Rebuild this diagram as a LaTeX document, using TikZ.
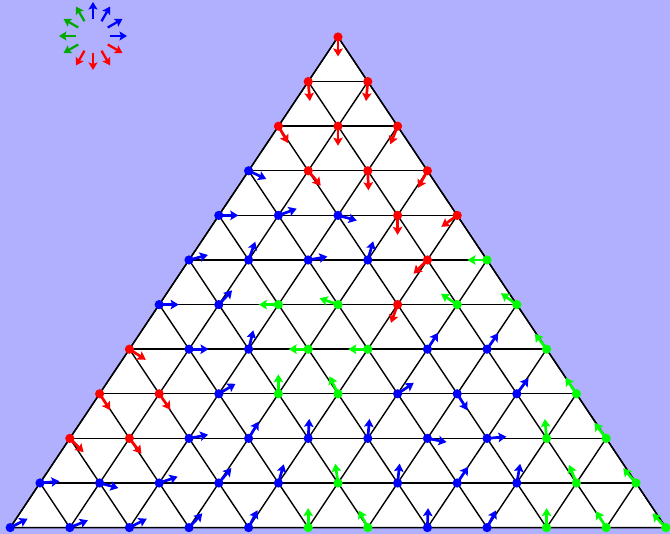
\documentclass[tikz,border=0pt]{standalone}
\usetikzlibrary{arrows.meta}
\definecolor{bg}{RGB}{176,176,255}
\definecolor{cR}{RGB}{255,0,0}
\definecolor{cB}{RGB}{0,0,255}
\definecolor{cG}{RGB}{0,255,0}
\definecolor{lG}{RGB}{0,170,0}
\begin{document}
\begin{tikzpicture}[x=1pt,y=1pt,
  gridline/.style={line width=1.4pt,black},
  vec/.style={line width=2.7pt,-{Stealth[length=8pt,width=9.5pt,inset=1.5pt]}},
  legvec/.style={line width=2.3pt,-{Stealth[length=7.5pt,width=9pt,inset=1.5pt]}}]
\fill[bg] (0,0) rectangle (670,534);
\useasboundingbox (0,0) rectangle (670,534);
\foreach \r in {0,...,11}{
  \foreach \k in {0,...,\r}{
    \coordinate (v-\r-\k) at ({338+(\k-\r/2)*59.6},{497-\r*44.6});
  }
}
\fill[white] (v-0-0) -- (v-11-0) -- (v-11-11) -- cycle;
\foreach \r in {1,...,11} \draw[gridline] (v-\r-0) -- (v-\r-\r);
\foreach \k in {0,...,10} \draw[gridline] (v-\k-\k) -- (v-11-\k);
\foreach \j in {0,...,10}{
  \pgfmathtruncatemacro\e{11-\j}
  \draw[gridline] (v-\j-0) -- (v-11-\e);
}
\draw[gridline,line join=miter] (v-0-0) -- (v-11-0) -- (v-11-11) -- cycle;
\foreach \r/\k/\a/\c in {
  0/0/-90/cR,
  1/0/-85/cR, 1/1/-95/cR,
  2/0/-60/cR, 2/1/-90/cR, 2/2/-112/cR,
  3/0/-25/cB, 3/1/-50/cR, 3/2/-88/cR, 3/3/-119/cR,
  4/0/0/cB, 4/1/20/cB, 4/2/-15/cB, 4/3/-90/cR, 4/4/-144/cR,
  5/0/15/cB, 5/1/70/cB, 5/2/10/cB, 5/3/74/cB, 5/4/-135/cR, 5/5/180/cG,
  6/0/0/cB, 6/1/47/cB, 6/2/180/cG, 6/3/161/cG, 6/4/-110/cR, 6/5/146/cG, 6/6/144/cG,
  7/0/-33/cR, 7/1/0/cB, 7/2/76/cB, 7/3/180/cG, 7/4/180/cG, 7/5/57/cB, 7/6/55/cB, 7/7/127/cG,
  8/0/-57/cR, 8/1/-55/cR, 8/2/31/cB, 8/3/90/cG, 8/4/116/cG, 8/5/34/cB, 8/6/-58/cB, 8/7/53/cB, 8/8/124/cG,
  9/0/-45/cR, 9/1/-52/cR, 9/2/11/cB, 9/3/59/cB, 9/4/87/cB, 9/5/85/cB, 9/6/-11/cB, 9/7/5/cB, 9/8/95/cG, 9/9/127/cG,
  10/0/5/cB, 10/1/-15/cB, 10/2/19/cB, 10/3/50/cB, 10/4/74/cB, 10/5/98/cG, 10/6/84/cB, 10/7/56/cB, 10/8/80/cB, 10/9/112/cG, 10/10/131/cG,
  11/0/27/cB, 11/1/22/cB, 11/2/27/cB, 11/3/47/cB, 11/4/63/cB, 11/5/90/cG, 11/6/118/cG, 11/7/88/cB, 11/8/62/cB, 11/9/90/cG, 11/10/122/cG, 11/11/133/cG}{
  \draw[vec,\c] (v-\r-\k) -- ++(\a:19.5pt);
  \fill[\c] (v-\r-\k) circle (4.6pt);
}
\coordinate (lc) at (93,498);
\foreach \a/\c in {0/cB,30/cB,60/cB,90/cB,120/lG,150/lG,180/lG,210/lG,240/cR,270/cR,300/cR,330/cR}{
  \draw[legvec,\c] ([shift={(\a:17pt)}]lc) -- ([shift={(\a:34pt)}]lc);
}
\end{tikzpicture}
\end{document}
